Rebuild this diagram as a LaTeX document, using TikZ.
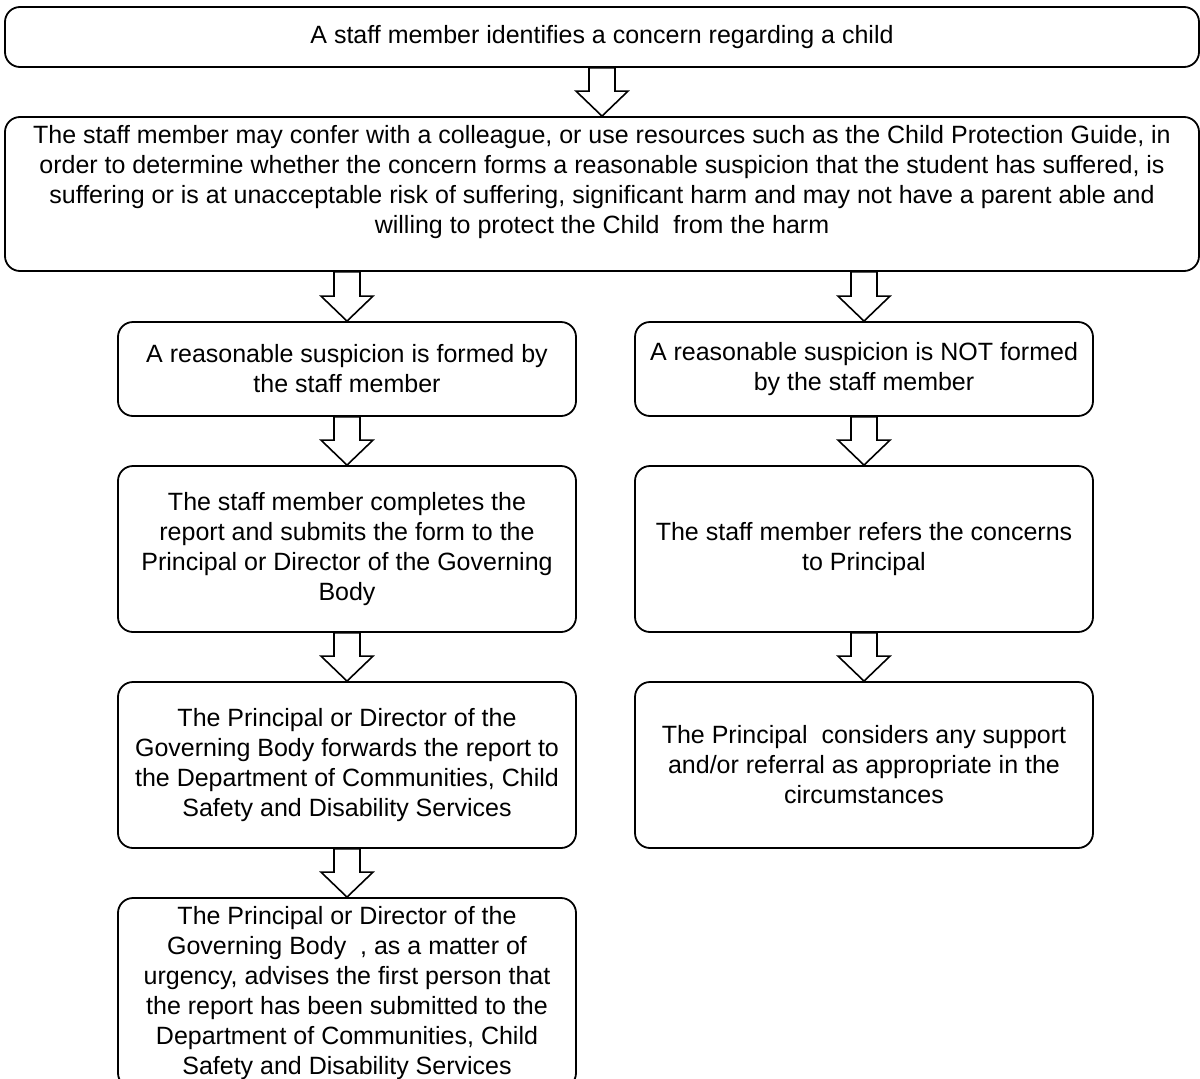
\documentclass[tikz,border=0pt]{standalone}
\usepackage{fontspec}
\setmainfont{Liberation Sans}
\usetikzlibrary{calc}
\tikzset{
  box/.style={draw=black, line width=1.8pt, rounded corners=15pt, fill=white,
    align=center, inner sep=0pt, font={\fontsize{25}{30}\selectfont}},
  txt/.style={align=center, inner sep=0pt, font={\fontsize{25}{30}\selectfont}},
  blk/.style={draw=black, line width=1.6pt, fill=white, line join=miter},
}
\newcommand{\blkarrow}[2]{%
  \draw[blk] let \p1=(#2.north), \p2=(#1.south) in
    (\x1-13pt,\y2) -- (\x1+13pt,\y2) -- (\x1+13pt,\y1+25pt) -- (\x1+26pt,\y1+25pt)
    -- (\x1,\y1) -- (\x1-26pt,\y1+25pt) -- (\x1-13pt,\y1+25pt) -- cycle;}
\begin{document}
\begin{tikzpicture}[x=1pt,y=-1pt]
\clip (0,0) rectangle (1200,1079);
\fill[white] (0,0) rectangle (1200,1079);

\node[box, minimum width=1194pt, minimum height=60pt] (b1) at (602,37)
  {A staff member identifies a concern regarding a child};
\node[box, minimum width=1194pt, minimum height=154pt] (b2) at (602,194) {};
\node[txt] (b2t) at (602,182)
  {The staff member may confer with a colleague, or use resources such as the Child Protection Guide, in\\
   order to determine whether the concern forms a reasonable suspicion that the student has suffered, is\\
   suffering or is at unacceptable risk of suffering, significant harm and may not have a parent able and\\
   willing to protect the Child\ \ from the harm};

\node[box, minimum width=458pt, minimum height=94pt] (l1) at (347,369)
  {A reasonable suspicion is formed by\\ the staff member};
\node[box, minimum width=458pt, minimum height=94pt] (r1) at (864,369)
  {A reasonable suspicion is NOT formed\\ by the staff member};

\node[box, minimum width=458pt, minimum height=166pt] (l2) at (347,549)
  {The staff member completes the\\ report and submits the form to the\\ Principal or Director of the Governing\\ Body};
\node[box, minimum width=458pt, minimum height=166pt] (r2) at (864,549)
  {The staff member refers the concerns\\ to Principal};

\node[box, minimum width=458pt, minimum height=166pt] (l3) at (347,765)
  {The Principal or Director of the\\ Governing Body forwards the report to\\ the Department of Communities, Child\\ Safety and Disability Services};
\node[box, minimum width=458pt, minimum height=166pt] (r3) at (864,765)
  {The Principal\ \ considers any support\\ and/or referral as appropriate in the\\ circumstances};

\node[box, minimum width=458pt, minimum height=190pt] (l4) at (347,993)
  {The Principal or Director of the\\ Governing Body\ \ , as a matter of\\ urgency, advises the first person that\\ the report has been submitted to the\\ Department of Communities, Child\\ Safety and Disability Services};

\blkarrow{b1}{b2}
\blkarrow{b2}{l1}
\blkarrow{b2}{r1}
\blkarrow{l1}{l2}
\blkarrow{r1}{r2}
\blkarrow{l2}{l3}
\blkarrow{r2}{r3}
\blkarrow{l3}{l4}
\end{tikzpicture}
\end{document}
